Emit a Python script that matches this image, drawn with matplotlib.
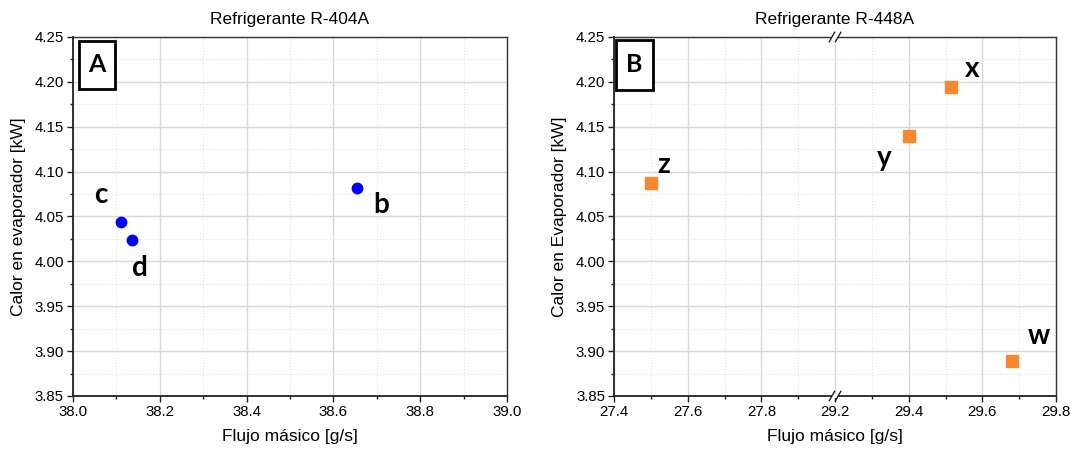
import numpy as np
import matplotlib.pyplot as plt
from matplotlib.patches import Rectangle

plt.rcParams['font.family'] = ['Liberation Sans', 'DejaVu Sans']

# R-404A data (left panel)
flujo_404 = [38.654, 38.110, 38.136]
calor_404 = [4.0815, 4.0437, 4.0238]
etiq_404 = ['b', 'c', 'd']
offs_404 = [(24, -17), (-20, 27), (8, -28)]   # label offsets in pixels

# R-448A data (right panel)
flujo_448 = [29.515, 29.400, 27.500, 29.681]
calor_448 = [4.194, 4.1395, 4.087, 3.8887]
etiq_448 = ['x', 'y', 'z', 'w']
offs_448 = [(21, 18), (-24, -22), (13, 18), (27, 25)]

yticks = [3.85, 3.90, 3.95, 4.00, 4.05, 4.10, 4.15, 4.20, 4.25]
xticks_404 = [38.0, 38.2, 38.4, 38.6, 38.8, 39.0]
xticks_448 = [27.4, 27.6, 27.8, 29.2, 29.4, 29.6, 29.8]
xminor_448 = [27.5, 27.7, 27.9, 29.3, 29.5, 29.7]

lbl_font = dict(family=['Lato', 'DejaVu Sans'], fontweight='bold')


# broken x axis: 28.0 .. 29.2 collapsed
def fwd(x):
    x = np.asarray(x, dtype=float)
    return np.where(x > 28.6, x - 1.2, np.minimum(x, 28.0))


def inv(y):
    y = np.asarray(y, dtype=float)
    return np.where(y > 28.0, y + 1.2, y)


fig = plt.figure(figsize=(10.75, 4.57), dpi=100)
ax1 = fig.add_axes([0.0679, 0.1335, 0.4037, 0.7856])
ax2 = fig.add_axes([0.5712, 0.1335, 0.4112, 0.7856])


def style(ax):
    ax.set_ylim(3.85, 4.25)
    ax.set_yticks(yticks)
    ax.set_yticks(np.arange(3.875, 4.25, 0.05), minor=True)
    ax.set_yticklabels([f'{v:.2f}' for v in yticks])
    ax.grid(which='major', color='#d9d9d9', lw=1.0)
    ax.grid(which='minor', color='#e3e3e3', lw=0.8, ls=':')
    ax.set_axisbelow(True)
    ax.tick_params(which='major', direction='out', length=4, width=1, labelsize=10.8,
                   color='#222', pad=2.5)
    ax.tick_params(which='minor', direction='out', length=2.5, width=1, color='#222')
    for s in ['left', 'bottom']:
        ax.spines[s].set_linewidth(1.3)
        ax.spines[s].set_color('#222')
    for s in ['top', 'right']:
        ax.spines[s].set_linewidth(1.0)
        ax.spines[s].set_color('#333')
    ax.set_xlabel('Flujo másico [g/s]', fontsize=12.5, labelpad=7)


# ---- left panel
ax1.set_xlim(38.0, 39.0)
ax1.set_xticks(xticks_404)
ax1.set_xticks(np.arange(38.1, 39.0, 0.2), minor=True)
ax1.set_xticklabels([f'{v:.1f}' for v in xticks_404])
style(ax1)
ax1.plot(flujo_404, calor_404, 'o', color='#0000ff', ms=7.5, mec='#0000ff', ls='none')
for xv, yv, t, o in zip(flujo_404, calor_404, etiq_404, offs_404):
    ax1.annotate(t, (xv, yv), xytext=o, textcoords='offset pixels',
                 ha='center', va='center', fontsize=20, **lbl_font)
ax1.set_ylabel('Calor en evaporador [kW]', fontsize=12.5, labelpad=6)
ax1.set_title('Refrigerante R-404A', fontsize=12.5, pad=9)

# ---- right panel (broken axis)
ax2.set_xscale('function', functions=(fwd, inv))
ax2.set_xlim(27.4, 29.8)
ax2.set_xticks(xticks_448)
ax2.set_xticks(xminor_448, minor=True)
ax2.set_xticklabels([f'{v:.1f}' for v in xticks_448])
style(ax2)
ax2.plot(flujo_448, calor_448, 's', color='#f7882f', ms=9, mec='#f7882f', ls='none')
for xv, yv, t, o in zip(flujo_448, calor_448, etiq_448, offs_448):
    ax2.annotate(t, (xv, yv), xytext=o, textcoords='offset pixels',
                 ha='center', va='center', fontsize=20, **lbl_font)
ax2.set_ylabel('Calor en Evaporador [kW]', fontsize=12.5, labelpad=6)
ax2.set_title('Refrigerante R-448A', fontsize=12.5, pad=9)

# break marks on top and bottom spine
for yb in (0.0, 1.0):
    ax2.add_patch(Rectangle((0.5 - 0.006, yb - 0.006), 0.012, 0.012, transform=ax2.transAxes,
                            facecolor='white', edgecolor='none', clip_on=False, zorder=5))
    for dx in (-0.007, 0.007):
        ax2.plot([0.5 + dx - 0.006, 0.5 + dx + 0.006], [yb - 0.013, yb + 0.013],
                 transform=ax2.transAxes, color='#222', lw=1.0, clip_on=False, zorder=6)

# panel letters in boxes
for ax, letra, box in [(ax1, 'A', (0.0138, 0.855, 0.083, 0.134)),
                      (ax2, 'B', (0.0045, 0.852, 0.0835, 0.14))]:
    x0, y0, w, h = box
    ax.add_patch(Rectangle((x0, y0), w, h, transform=ax.transAxes, facecolor='white',
                           edgecolor='black', lw=2, zorder=4))
    ax.text(x0 + w / 2, y0 + h / 2, letra, transform=ax.transAxes, ha='center', va='center',
            fontsize=18, zorder=5, **lbl_font)

fig.savefig('out.png', dpi=100)
